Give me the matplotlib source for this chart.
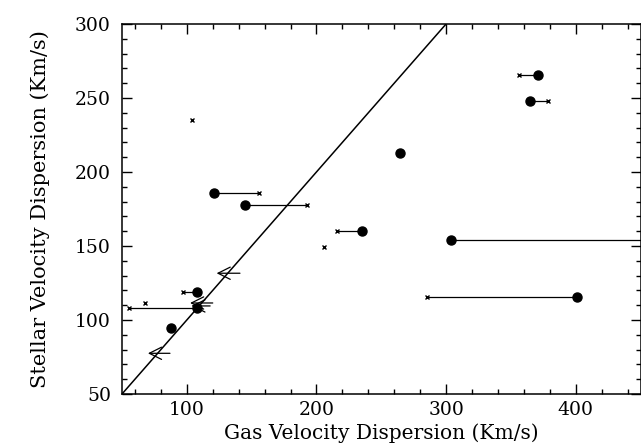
import numpy as np
import matplotlib
matplotlib.use("Agg")
import matplotlib.pyplot as plt
from matplotlib.ticker import MultipleLocator

# filled circles
dot_x = [121, 371, 365, 264.6, 145, 235, 304, 401, 108, 108, 88]
dot_y = [186, 265.5, 248, 212.6, 178, 160, 154, 115.7, 119, 108.3, 94.8]

# crosses
cross_x = [104, 156, 356, 379, 193, 216, 206, 285, 97, 67.7, 55.6]
cross_y = [235, 186, 265.5, 248, 178, 160, 149.5, 115.7, 119, 111.7, 108.3]

# horizontal connectors: x from, x to, y
seg_x0 = [121, 356, 365, 145, 216, 304, 285, 97, 55.6]
seg_x1 = [156, 371, 379, 193, 235, 470, 401, 108, 108]
seg_y = [186, 265.5, 248, 178, 160, 154, 115.7, 119, 108.3]

# upper limits (arrows pointing left): tail x, head x, y
arr_tail = [141, 120, 118, 87]
arr_head = [123, 102.5, 103.5, 70]
arr_y = [131.6, 111.5, 109.5, 77.5]

plt.rcParams['font.family'] = ['DejaVu Serif']

fig = plt.figure(figsize=(6.41, 4.45), dpi=100)
ax = fig.add_axes([122/641, 51/445, 518.5/641, 370/445])

# one-to-one line
diag = np.array([50, 300])
ax.plot(diag, diag, color='k', lw=1.1)

for x0, x1, y in zip(seg_x0, seg_x1, seg_y):
    ax.plot([x0, x1], [y, y], color='k', lw=0.9)

for xt, xh, y in zip(arr_tail, arr_head, arr_y):
    ax.annotate('', xy=(xh, y), xytext=(xt, y),
                arrowprops=dict(arrowstyle='->', color='k', lw=0.9,
                                mutation_scale=22, shrinkA=0, shrinkB=0))

ax.plot(dot_x, dot_y, 'o', color='k', ms=6.5, ls='none')
ax.plot(cross_x, cross_y, 'x', color='k', ms=3.5, mew=1, ls='none')

ax.set_xlim(50, 450)
ax.set_ylim(50, 300)
ax.xaxis.set_major_locator(MultipleLocator(100))
ax.xaxis.set_minor_locator(MultipleLocator(20))
ax.yaxis.set_major_locator(MultipleLocator(50))
ax.yaxis.set_minor_locator(MultipleLocator(10))
ax.tick_params(which='both', direction='in', top=True, right=True,
               labelsize=13.5, width=1, colors='k')
ax.tick_params(axis='x', which='major', pad=5)
ax.tick_params(axis='y', which='major', pad=8)
ax.tick_params(which='major', length=7)
ax.tick_params(which='minor', length=3.5)
for s in ax.spines.values():
    s.set_linewidth(1.1)

ax.set_xlabel('Gas Velocity Dispersion (Km/s)', fontsize=14.5)
ax.xaxis.set_label_coords(0.5, -29/370)
ax.set_ylabel('Stellar Velocity Dispersion (Km/s)', fontsize=15, labelpad=18)

fig.savefig('out.png', dpi=100)
